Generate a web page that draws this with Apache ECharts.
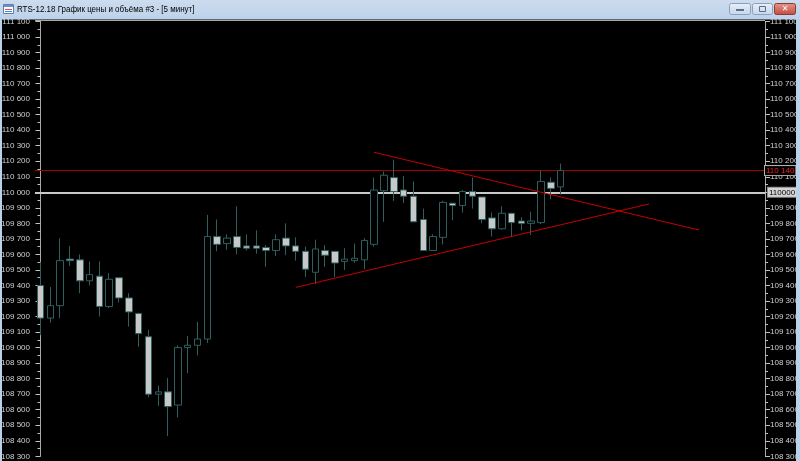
<!DOCTYPE html>
<html><head><meta charset="utf-8">
<script src="https://cdn.jsdelivr.net/npm/echarts@6.0.0/dist/echarts.min.js"></script>
<style>html,body{margin:0;padding:0;background:#000;overflow:hidden}#c{width:800px;height:461px}</style>
</head><body><div id="c"></div>
<script>
const titleText = 'RTS-12.18 График цены и объёма #3 - [5 минут]';
const opens  = [109400,109190,109270,109570,109565,109430,109460,109265,109450,109320,109220,109070,108700,108715,108630,109000,109015,109055,109715,109670,109715,109655,109655,109645,109625,109705,109655,109620,109485,109625,109620,109555,109560,109565,109665,110010,110095,110015,109975,109825,109625,109710,109930,109915,110005,109970,109835,109765,109865,109815,109800,109805,110065,110035];
const closes = [109190,109270,109560,109560,109430,109470,109265,109440,109320,109230,109090,108700,108715,108620,109000,109015,109055,109715,109665,109705,109645,109640,109640,109625,109695,109655,109620,109505,109635,109595,109545,109570,109575,109690,110015,110110,110005,109975,109810,109625,109715,109935,109915,110005,109975,109825,109765,109865,109805,109800,109815,110070,110025,110140];
const lows   = [109080,109160,109190,109525,109350,109400,109200,109255,109290,109135,109005,108680,108625,108430,108550,108835,108950,109030,109620,109630,109600,109625,109605,109520,109590,109595,109560,109455,109410,109520,109455,109500,109545,109505,109650,109810,109945,109930,109810,109625,109625,109665,109820,109870,109895,109800,109715,109760,109715,109755,109725,109795,109955,109985];
const highs  = [109550,109390,109705,109655,109600,109555,109555,109480,109450,109350,109225,109115,108755,108805,109015,109075,109165,109855,109825,109730,109910,109730,109755,109660,109730,109800,109710,109650,109695,109660,109620,109640,109670,109705,110095,110135,110210,110105,110070,109895,109730,109945,109930,110015,110095,109970,109870,109910,109865,109840,109875,110140,110095,110185];
const lastPrice = 110140;
const levelPrice = 110000;
const resistLine = [[33.98,110258],[67.09,109757]];
const supportLine = [[26.03,109388],[62.0,109925]];
const yMin = 108300, yMax = 111100, yStep = 100;
const xMin = -0.56, xMax = 73.82;

const candleData = opens.map((o,i)=>[i,o,closes[i],lows[i],highs[i]]);
const fmt = v => String(v).replace(/(\d{3})(\d{3})$/,'$1 $2');
const FONT = 'Liberation Sans';

const chart = echarts.init(document.getElementById('c'), null, {renderer:'canvas'});
const yAxisBase = {
  type:'value', min:yMin, max:yMax, interval:yStep,
  axisLine:{show:true, lineStyle:{color:'#a8a8a8', width:1}},
  axisTick:{show:true, length:5, lineStyle:{color:'#c0c0c0'}},
  minorTick:{show:true, splitNumber:2, length:3, lineStyle:{color:'#c0c0c0'}},
  splitLine:{show:false}, minorSplitLine:{show:false},
  axisLabel:{color:'#d0d0d0', fontSize:8, fontFamily:FONT, margin:5, formatter:fmt, hideOverlap:false, showMinLabel:true, showMaxLabel:true}
};
chart.setOption({
  animation:false,
  backgroundColor:'#000',
  grid:{left:35, right:35, top:21.5, bottom:4.7, containLabel:false, outerBoundsMode:'none'},
  xAxis:{type:'value', min:xMin, max:xMax, show:false},
  yAxis:[Object.assign({position:'left'}, yAxisBase), Object.assign({position:'right'}, yAxisBase)],
  series:[
    {type:'candlestick', data:candleData, barWidth:7,
     itemStyle:{color:'#000', color0:'#c8c8c8', borderColor:'#2f5e5e', borderColor0:'#2f5e5e', borderWidth:1},
     markLine:{symbol:'none', silent:true, animation:false, z:1,
       data:[
        {yAxis:levelPrice, lineStyle:{color:'#c8c8c8', width:2, type:'solid'},
         label:{show:true, position:'end', distance:3, formatter:String(levelPrice), color:'#000', fontSize:8, fontFamily:FONT, backgroundColor:'#d4d4d4', borderColor:'#909090', borderWidth:1, padding:[1,1,0,1]}},
        {yAxis:lastPrice, lineStyle:{color:'#a00000', width:1.2, type:'solid'},
         label:{show:true, position:'end', distance:0, formatter:fmt(lastPrice), color:'#ff1a1a', fontSize:8, fontFamily:FONT, backgroundColor:'#000', borderColor:'#b0b0b0', borderWidth:1, padding:[1,1,0,1]}}
       ]}
    },
    {type:'line', data:resistLine, symbol:'none', lineStyle:{color:'#c80000', width:1}, z:3, silent:true},
    {type:'line', data:supportLine, symbol:'none', lineStyle:{color:'#c80000', width:1}, z:3, silent:true}
  ],
  graphic:[
    {type:'line', z:50, shape:{x1:35, y1:20.5, x2:765, y2:20.5}, style:{stroke:'#a8a8a8', lineWidth:1}},
    {type:'rect', z:100, shape:{x:0,y:0,width:800,height:19.5}, style:{fill:new echarts.graphic.LinearGradient(0,0,0,1,[{offset:0,color:'#cddcee'},{offset:1,color:'#bcd2ea'}])}},
    {type:'rect', z:100, shape:{x:0,y:19,width:2,height:442}, style:{fill:'#b9d1ea'}},
    {type:'rect', z:100, shape:{x:796,y:19,width:4,height:442}, style:{fill:'#b9d1ea'}},
    {type:'rect', z:101, shape:{x:3.5,y:4.5,width:10,height:9}, style:{fill:'#ffffff', stroke:'#5b7fb5', lineWidth:1}},
    {type:'rect', z:101, shape:{x:4,y:5,width:9,height:2}, style:{fill:'#6d8fc4'}},
    {type:'line', z:102, shape:{x1:5,y1:9.5,x2:12,y2:9.5}, style:{stroke:'#e05050', lineWidth:1}},
    {type:'line', z:102, shape:{x1:5,y1:11.5,x2:12,y2:11.5}, style:{stroke:'#5080d0', lineWidth:1}},
    {type:'text', z:101, x:17, y:9.5, scaleX:0.84, style:{text:titleText, fill:'#000', font:'9.5px "Liberation Sans"', textVerticalAlign:'middle', verticalAlign:'middle'}},
    {type:'rect', z:101, shape:{x:729.5,y:3.5,width:21,height:11,r:2}, style:{fill:new echarts.graphic.LinearGradient(0,0,0,1,[{offset:0,color:'#e8eff8'},{offset:1,color:'#c6d6ea'}]), stroke:'#8aa0bd', lineWidth:1}},
    {type:'rect', z:102, shape:{x:736,y:9,width:8,height:2}, style:{fill:'#5a6f8c'}},
    {type:'rect', z:101, shape:{x:752.5,y:3.5,width:20,height:11,r:2}, style:{fill:new echarts.graphic.LinearGradient(0,0,0,1,[{offset:0,color:'#e8eff8'},{offset:1,color:'#c6d6ea'}]), stroke:'#8aa0bd', lineWidth:1}},
    {type:'rect', z:102, shape:{x:759.5,y:6.5,width:6,height:5}, style:{fill:'none', stroke:'#5a6f8c', lineWidth:1}},
    {type:'rect', z:101, shape:{x:774.5,y:3.5,width:21,height:11,r:2}, style:{fill:new echarts.graphic.LinearGradient(0,0,0,1,[{offset:0,color:'#e39a8e'},{offset:1,color:'#c4483a'}]), stroke:'#8a3a33', lineWidth:1}},
    {type:'text', z:102, x:785, y:9, style:{text:'✕', fill:'#ffffff', font:'bold 8px "DejaVu Sans"', align:'center', verticalAlign:'middle', textAlign:'center', textVerticalAlign:'middle'}}
  ]
});
</script></body></html>
